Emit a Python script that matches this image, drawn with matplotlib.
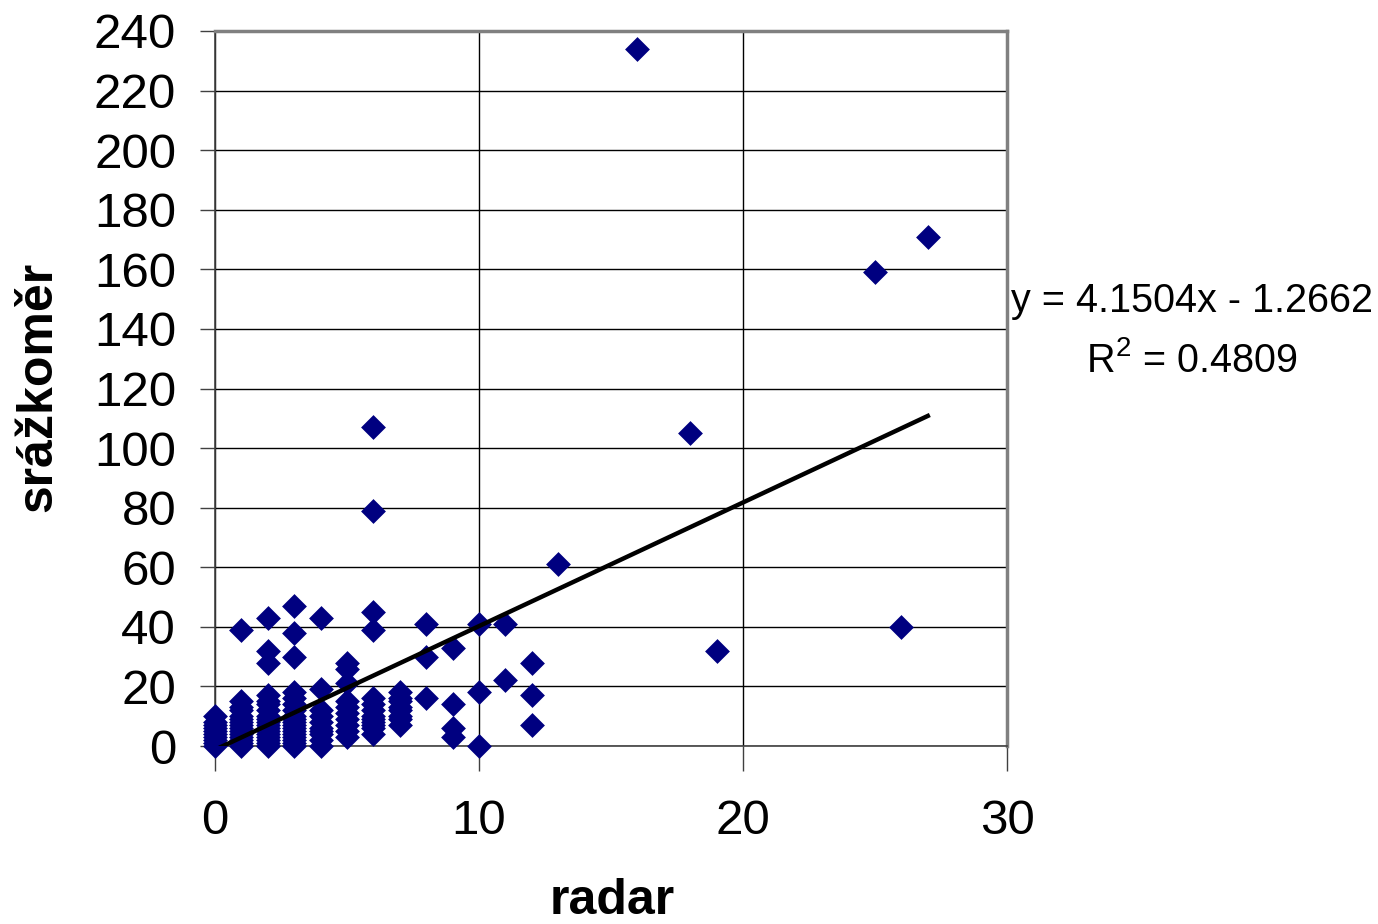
import numpy as np
import matplotlib.pyplot as plt

plt.rcParams['font.family'] = ['Liberation Sans', 'DejaVu Sans']

# radar (x) vs. srážkoměr (y)
radar = np.array(
    [0] * 10 +
    [1] * 15 +
    [2] * 18 +
    [3] * 18 +
    [4] * 10 +
    [5] * 10 +
    [6] * 13 +
    [7] * 8 +
    [8, 8, 8, 9, 9, 9, 9, 10, 10, 10, 11, 11, 12, 12, 12, 13,
     16, 18, 19, 25, 26, 27])
srazkomer = np.array(
    [0, 1, 2, 3, 4, 5, 6, 7, 8, 10] +
    [0, 1, 2, 3, 4, 5, 6, 7, 8, 9, 10, 12, 13, 15, 39] +
    [0, 1, 2, 3, 4, 5, 6, 7, 8, 9, 10, 12, 14, 15, 17, 28, 32, 43] +
    [0, 1, 2, 3, 4, 5, 6, 7, 8, 9, 10, 12, 14, 16, 18, 30, 38, 47] +
    [0, 2, 4, 5, 6, 8, 10, 12, 19, 43] +
    [3, 5, 7, 9, 11, 13, 15, 21, 26, 28] +
    [4, 6, 7, 9, 10, 12, 14, 16, 39, 45, 79, 107, 8] +
    [7, 9, 10, 12, 13, 15, 16, 18] +
    [16, 30, 41, 3, 6, 14, 33, 0, 18, 41, 22, 41, 7, 17, 28, 61,
     234, 105, 32, 159, 40, 171])

slope, intercept = 4.1504, -1.2662

fig = plt.figure(figsize=(13.78, 9.24), dpi=100)
ax = fig.add_axes([215 / 1378, 1 - 746 / 924, (1007 - 215) / 1378, (746 - 31) / 924])

ax.scatter(radar, srazkomer, marker='D', s=160, color='#000080', zorder=3,
           linewidths=0, clip_on=False)

xl = np.array([0, 27])
ax.plot(xl, slope * xl + intercept, color='black', lw=3.2, zorder=4)

ax.set_xlim(0, 30)
ax.set_ylim(0, 240)
ax.set_xticks([0, 10, 20, 30])
ax.set_yticks(np.arange(0, 241, 20))
ax.grid(True, color='black', lw=1)
ax.set_axisbelow(True)

for side in ['top', 'right']:
    ax.spines[side].set_color('#808080')
    ax.spines[side].set_linewidth(2.5)
for side in ['left', 'bottom']:
    ax.spines[side].set_color('#404040')
    ax.spines[side].set_linewidth(1.2)

ax.tick_params(axis='y', labelsize=35.5, length=11, width=1, color='#404040', pad=17)
ax.tick_params(axis='x', labelsize=35.5, length=18, width=1, color='#404040', pad=20)

fig.text(612 / 1378, 1 - 901 / 924, 'radar', fontsize=36, fontweight='bold',
         ha='center', va='center')
fig.text(38 / 1378, 1 - 387 / 924, 'srážkoměr', fontsize=36, fontweight='bold',
         ha='center', va='center', rotation=90)

fig.text(1192 / 1378, 1 - 301 / 924, 'y = 4.1504x - 1.2662', fontsize=28.5,
         ha='center', va='center')
fig.text(1192 / 1378, 1 - 360 / 924, '$\\mathregular{R^2}$ = 0.4809', fontsize=28.5,
         ha='center', va='center')

fig.savefig('out.png', dpi=100)
